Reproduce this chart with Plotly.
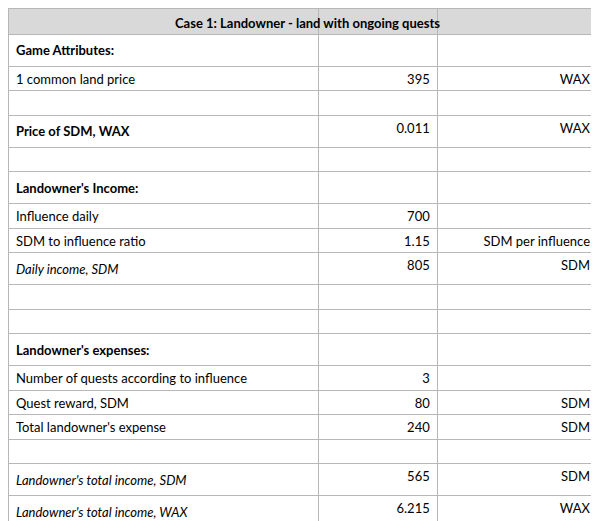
import plotly.graph_objects as go

title = "Case 1: Landowner - land with ongoing quests"

labels = [
    "<b>Game Attributes:</b>", "1 common land price", "",
    "<b>Price of SDM, WAX</b>", "",
    "<b>Landowner's Income:</b>", "Influence daily", "SDM to influence ratio",
    "<i>Daily income, SDM</i>", "", "",
    "<b>Landowner's expenses:</b>", "Number of quests according to influence",
    "Quest reward, SDM", "Total landowner's expense", "",
    "<i>Landowner's total income, SDM</i>", "<i>Landowner's total income, WAX</i>", "",
    "<i>ROI period:</i>",
]
values = ["", "395", "", "0.011", "", "", "700", "1.15", "805", "", "", "",
          "3", "80", "240", "", "565", "6.215", "", "64"]
units = ["", "WAX", "", "WAX", "", "", "", "SDM per influence", "SDM", "", "", "",
         "", "SDM", "SDM", "", "SDM", "WAX", "", "days"]

n = len(labels)
white = "white"
pink = "#f4cccc"
fill_label = [white] * (n - 1) + [pink]

fig = go.Figure(go.Table(
    columnwidth=[310, 119, 160],
    header=dict(values=["", "", ""], fill_color="#d9d9d9", line_color="#b7b7b7",
                height=26, font=dict(size=12)),
    cells=dict(
        values=[labels, values, units],
        fill_color=[fill_label, [white] * n, [white] * n],
        line_color="#b7b7b7",
        align=["left", "right", "right"],
        height=24.5,
        font=dict(family="Lato", size=13, color="black"),
    ),
    domain=dict(x=[0, 0.985], y=[0, 1]),
))

fig.add_annotation(text="<b>" + title + "</b>", x=0.5, y=1, xref="paper", yref="paper",
                   yanchor="top", yshift=-5, showarrow=False,
                   font=dict(family="Lato", size=13, color="black"))

fig.update_layout(width=599, height=521, margin=dict(l=0, r=0, t=0, b=0),
                  paper_bgcolor="white")
fig.write_html("out.html")
